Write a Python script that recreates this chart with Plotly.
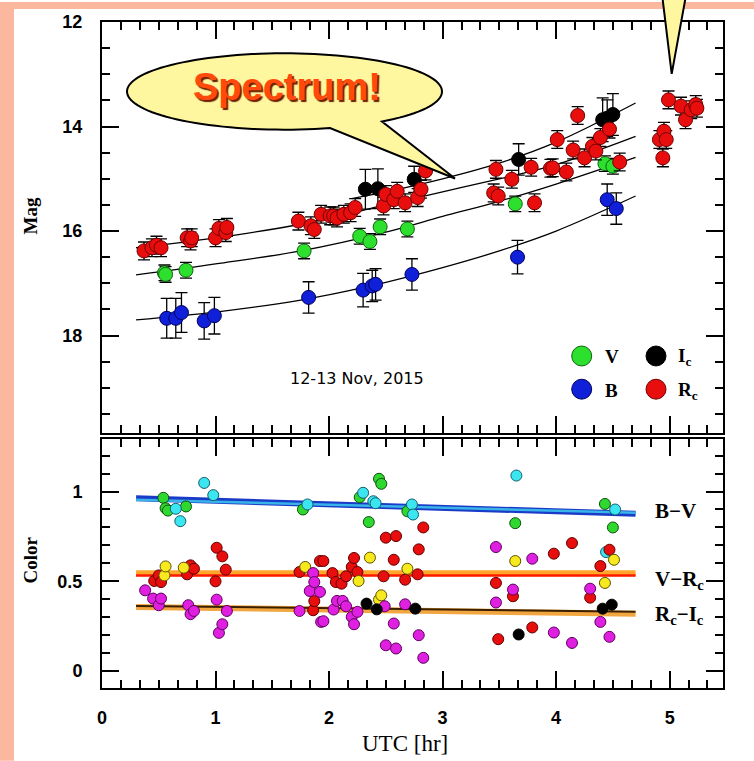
import numpy as np
import plotly.graph_objects as go

W, H = 754, 761
ML, MR, MT, MB = 102, 31, 20, 73

# ---------------- light curves (UTC hr, magnitude, error) ----------------
rc_t = [0.37, 0.44, 0.48, 0.52, 0.75, 0.78, 0.79, 1.00, 1.03, 1.09, 1.10, 1.73, 1.84, 1.87, 1.93,
        2.01, 2.04, 2.07, 2.13, 2.19, 2.23, 2.48, 2.50, 2.57, 2.60, 2.67, 2.78, 2.81, 2.85, 3.45,
        3.47, 3.49, 3.61, 3.78, 3.81, 3.95, 3.97, 4.01, 4.09, 4.15, 4.19, 4.25, 4.32, 4.35, 4.39,
        4.47, 4.56, 4.91, 4.94, 4.95, 4.97, 4.99, 5.10, 5.14, 5.19, 5.23, 5.24]
rc_mag = [16.38, 16.32, 16.27, 16.32, 16.13, 16.19, 16.13, 16.13, 15.95, 16.03, 15.93, 15.81, 15.90,
          15.97, 15.68, 15.71, 15.71, 15.75, 15.68, 15.65, 15.55, 15.52, 15.30, 15.40, 15.24, 15.46,
          15.36, 15.20, 14.85, 15.27, 14.82, 15.33, 15.01, 14.78, 15.46, 14.80, 14.79, 14.25, 14.87,
          14.45, 13.79, 14.60, 14.38, 14.47, 14.21, 14.05, 14.68, 14.25, 14.60, 14.09, 14.25, 13.49,
          13.61, 13.87, 13.68, 13.58, 13.65]
rc_err = [0.17] * len(rc_t)

ic_t = [2.32, 2.43, 2.75, 3.67, 4.41, 4.45, 4.50]
ic_mag = [15.20, 15.19, 15.01, 14.63, 13.87, 13.84, 13.77]
ic_err = [0.38, 0.38, 0.25, 0.30, 0.42, 0.35, 0.40]

v_t = [0.55, 0.56, 0.74, 1.78, 2.27, 2.36, 2.45, 2.69, 3.64, 4.43, 4.50]
v_mag = [16.80, 16.83, 16.75, 16.38, 16.10, 16.20, 15.92, 15.96, 15.48, 14.71, 14.76]
v_err = [0.15, 0.15, 0.15, 0.15, 0.15, 0.15, 0.15, 0.15, 0.15, 0.15, 0.15]

b_t = [0.57, 0.65, 0.70, 0.90, 0.99, 1.82, 2.30, 2.38, 2.41, 2.73, 3.66, 4.45, 4.53]
b_mag = [17.67, 17.67, 17.56, 17.72, 17.62, 17.27, 17.13, 17.05, 17.02, 16.83, 16.50, 15.40, 15.57]
b_err = [0.38, 0.38, 0.38, 0.35, 0.35, 0.30, 0.32, 0.30, 0.30, 0.30, 0.32, 0.30, 0.30]

# fitted trends through each band
fit_t = [0.3, 1.0, 1.75, 2.5, 3.0, 3.5, 4.0, 4.7]
fit_b = [17.70, 17.55, 17.32, 16.98, 16.70, 16.38, 16.00, 15.33]
fit_v = [16.84, 16.63, 16.38, 16.02, 15.72, 15.43, 15.10, 14.59]
fit_rc = [16.32, 16.13, 15.87, 15.50, 15.25, 15.00, 14.73, 14.19]
fit_ic_t = [2.2, 2.5, 3.0, 3.5, 4.0, 4.7]
fit_ic = [15.38, 15.25, 15.00, 14.70, 14.30, 13.55]

# ---------------- colour indices ----------------
bv1_t = [0.54, 0.56, 0.58, 0.74, 1.77, 2.27, 2.35, 2.44, 2.46, 2.69, 3.64, 4.43, 4.50]
bv1_c = [0.965, 0.907, 0.894, 0.917, 0.90, 0.968, 0.83, 1.071, 1.043, 0.89, 0.824, 0.931, 0.80]
bv2_t = [0.65, 0.69, 0.90, 0.98, 1.81, 2.30, 2.39, 2.41, 2.73, 2.74, 3.65, 4.44, 4.52]
bv2_c = [0.904, 0.835, 1.048, 0.98, 0.928, 0.993, 0.946, 0.935, 0.928, 0.872, 1.089, 0.663, 0.90]

vr1_t = [0.46, 0.50, 0.52, 0.75, 0.78, 0.81, 1.00, 1.01, 1.06, 1.09, 1.74, 1.86, 1.87, 1.92, 1.95,
         2.03, 2.06, 2.11, 2.15, 2.20, 2.22, 2.25, 2.48, 2.50, 2.57, 2.59, 2.67, 2.78, 2.79, 2.83,
         3.47, 3.49, 3.62, 3.79, 3.98, 4.14, 4.30, 4.39, 4.47]
vr1_c = [0.502, 0.533, 0.496, 0.539, 0.589, 0.57, 0.50, 0.687, 0.639, 0.565, 0.552, 0.339, 0.39,
         0.613, 0.613, 0.546, 0.496, 0.487, 0.528, 0.58, 0.63, 0.552, 0.528, 0.743, 0.62, 0.752,
         0.509, 0.539, 0.678, 0.80, 0.491, 0.178, 0.417, 0.243, 0.654, 0.713, 0.409, 0.585, 0.676]
vr2_t = [0.55, 0.56, 0.72, 1.79, 2.26, 2.36, 2.44, 2.46, 2.69, 3.64, 4.43, 4.51]
vr2_c = [0.533, 0.583, 0.576, 0.58, 0.502, 0.632, 0.398, 0.422, 0.57, 0.613, 0.491, 0.62]

ri1_t = [0.38, 0.45, 0.50, 0.52, 0.76, 0.78, 0.81, 1.01, 1.03, 1.06, 1.10, 1.74, 1.83, 1.86, 1.87,
         1.92, 1.93, 1.95, 2.04, 2.07, 2.12, 2.15, 2.20, 2.22, 2.25, 2.49, 2.50, 2.57, 2.59, 2.67,
         2.79, 2.83, 3.47, 3.47, 3.62, 3.79, 3.98, 4.14, 4.30, 4.39, 4.47]
ri1_c = [0.45, 0.404, 0.367, 0.404, 0.367, 0.317, 0.335, 0.398, 0.213, 0.261, 0.335, 0.335, 0.446,
         0.546, 0.496, 0.441, 0.274, 0.278, 0.343, 0.391, 0.391, 0.361, 0.302, 0.261, 0.33, 0.361,
         0.144, 0.265, 0.126, 0.372, 0.20, 0.074, 0.691, 0.382, 0.454, 0.626, 0.215, 0.157, 0.459,
         0.274, 0.191]
ri2_t = [2.33, 2.42, 2.76, 3.67, 4.41, 4.49]
ri2_c = [0.376, 0.344, 0.348, 0.204, 0.348, 0.37]

cfit_t = [0.3, 4.7]
cfit_bv_a = [0.962, 0.876]
cfit_bv_b = [0.955, 0.882]
cfit_vr_a = [0.545, 0.545]
cfit_vr_b = [0.532, 0.532]
cfit_ri_a = [0.357, 0.320]
cfit_ri_b = [0.363, 0.330]

mag_ticks = [12, 14, 16, 18]
col_ticks = [0, 0.5, 1]
utc_ticks = [0, 1, 2, 3, 4, 5]


def px2x(px):
    return (px - ML) / (W - ML - MR)


def py2y(py):
    return (H - MB - py) / (H - MT - MB)


fig = go.Figure()

# top panel: fits then points
for ft, fv in [(fit_t, fit_b), (fit_t, fit_v), (fit_t, fit_rc), (fit_ic_t, fit_ic)]:
    fig.add_trace(go.Scatter(x=ft, y=fv, mode="lines", line=dict(color="black", width=1.3, shape="spline"),
                             xaxis="x2", yaxis="y2", hoverinfo="skip"))


def band(t, m, e, fill, edge):
    fig.add_trace(go.Scatter(
        x=t, y=m, mode="markers", xaxis="x2", yaxis="y2",
        marker=dict(size=14, color=fill, line=dict(color=edge, width=1)),
        error_y=dict(type="data", array=e, color="black", thickness=1.3, width=6)))


band(b_t, b_mag, b_err, "#1020D8", "#00005a")
band(v_t, v_mag, v_err, "#2EE02E", "#106010")
band(ic_t, ic_mag, ic_err, "#000000", "#000000")
band(rc_t, rc_mag, rc_err, "#E80E0E", "#700000")

# bottom panel: colour fit bands
fig.add_trace(go.Scatter(x=cfit_t, y=cfit_bv_a, mode="lines", line=dict(color="#1A3AC8", width=6)))
fig.add_trace(go.Scatter(x=cfit_t, y=cfit_bv_b, mode="lines", line=dict(color="#38B4E8", width=2.5)))
fig.add_trace(go.Scatter(x=cfit_t, y=cfit_vr_a, mode="lines", line=dict(color="#FFA62B", width=6)))
fig.add_trace(go.Scatter(x=cfit_t, y=cfit_vr_b, mode="lines", line=dict(color="#FF1A00", width=2.5)))
fig.add_trace(go.Scatter(x=cfit_t, y=cfit_ri_a, mode="lines", line=dict(color="#F2A640", width=6)))
fig.add_trace(go.Scatter(x=cfit_t, y=cfit_ri_b, mode="lines", line=dict(color="#3A2000", width=2)))

for t, c, fill, edge in [(bv1_t, bv1_c, "#2ED82E", "#105010"), (bv2_t, bv2_c, "#3CE6F0", "#106070"),
                         (vr1_t, vr1_c, "#E80E0E", "#600000"), (vr2_t, vr2_c, "#F6EA1E", "#605000"),
                         (ri1_t, ri1_c, "#E020E0", "#600060"), (ri2_t, ri2_c, "#000000", "#000000")]:
    fig.add_trace(go.Scatter(x=t, y=c, mode="markers",
                             marker=dict(size=11, color=fill, line=dict(color=edge, width=1))))

tickfont = dict(family="Liberation Sans", size=18, color="black", weight="bold")
ax = dict(showline=True, linewidth=2, linecolor="black", mirror="ticks", ticks="inside",
          ticklen=17, tickwidth=2, tickcolor="black", showgrid=False, zeroline=False,
          tickfont=tickfont)

fig.update_layout(
    width=W, height=H, margin=dict(l=ML, r=MR, t=MT, b=MB),
    paper_bgcolor="white", plot_bgcolor="white", showlegend=False,
    xaxis=dict(**ax, domain=[0, 1], range=[0, 5.47], tickvals=utc_ticks, ticklabelstandoff=12,
               minor=dict(ticks="inside", ticklen=8, tickwidth=2, tickcolor="black", dtick=1 / 6, tick0=0),
               anchor="y"),
    yaxis=dict(**ax, domain=[0, py2y(438)], range=[-0.094, 1.294], tickvals=col_ticks, ticklabelstandoff=14,
               minor=dict(ticks="inside", ticklen=8, tickwidth=2, tickcolor="black", dtick=0.1, tick0=0),
               anchor="x"),
    xaxis2=dict(**ax, domain=[0, 1], range=[0, 5.47], tickvals=utc_ticks, showticklabels=False,
                minor=dict(ticks="inside", ticklen=8, tickwidth=2, tickcolor="black", dtick=1 / 6, tick0=0),
                anchor="y2", matches="x"),
    yaxis2=dict(**ax, domain=[py2y(432), 1], range=[19.86, 12], tickvals=mag_ticks, ticklabelstandoff=14,
                minor=dict(ticks="inside", ticklen=8, tickwidth=2, tickcolor="black", dtick=0.5, tick0=0),
                anchor="x2"),
)

shapes = []
salmon = "#FCB89E"
shapes.append(dict(type="rect", xref="paper", yref="paper", x0=px2x(0), x1=px2x(14), y0=py2y(761), y1=py2y(0),
                   fillcolor=salmon, line=dict(width=0), layer="below"))
shapes.append(dict(type="rect", xref="paper", yref="paper", x0=px2x(0), x1=px2x(754), y0=py2y(7), y1=py2y(0),
                   fillcolor=salmon, line=dict(width=0), layer="below"))

# speech bubble: ellipse with a pointer towards the light curves
cx, cy, rx, ry = 284.5, 89.7, 157.5, 38.3
th0 = np.degrees(np.arccos((330 - cx) / rx))
th1 = np.degrees(np.arccos((382 - cx) / rx)) + 360
ths = np.radians(np.linspace(th0, th1, 120))
pts = [(cx + rx * np.cos(a), cy + ry * np.sin(a)) for a in ths]
pts.append((455, 177))
path = "M " + " L ".join(f"{px2x(x):.5f},{py2y(y):.5f}" for x, y in pts) + " Z"
yellow = "#FFF6A0"
shapes.append(dict(type="path", xref="paper", yref="paper", path=path, fillcolor=yellow,
                   line=dict(color="black", width=2)))
tail = [(662.5, -4), (671.7, 72), (685.5, -4)]
tpath = "M " + " L ".join(f"{px2x(x):.5f},{py2y(y):.5f}" for x, y in tail) + " Z"
shapes.append(dict(type="path", xref="paper", yref="paper", path=tpath, fillcolor=yellow,
                   line=dict(color="black", width=2)))

# legend swatches
for (x, y), col, edge in [((581.7, 355), "#2EE02E", "#106010"), ((581.7, 388.3), "#1020D8", "#00005a"),
                          ((656, 355), "#000000", "#000000"), ((656, 388.3), "#E80E0E", "#700000")]:
    shapes.append(dict(type="circle", xref="paper", yref="paper", x0=px2x(x - 10), x1=px2x(x + 10),
                       y0=py2y(y + 10), y1=py2y(y - 10), fillcolor=col, line=dict(color=edge, width=1)))

fig.update_layout(shapes=shapes)

serif = "Liberation Serif"
ann = []


def text(px, py, s, size, family=serif, weight="bold", color="black", angle=0, xanchor="center", shadow=None):
    font = dict(family=family, size=size, weight=weight, color=color)
    if shadow:
        font["shadow"] = shadow
    ann.append(dict(x=px2x(px), y=py2y(py), xref="paper", yref="paper", text=s, showarrow=False,
                    xanchor=xanchor, yanchor="middle", textangle=angle, font=font))


text(287, 85, "Spectrum!", 38, family="Liberation Sans", color="#FF4A0C",
     shadow="2px 2px 1px #6A2000")
text(603, 356, "V", 19, xanchor="left")
text(603, 390, "B", 19, xanchor="left")
text(676, 356, "I<sub>c</sub>", 19, xanchor="left")
text(676, 390, "R<sub>c</sub>", 19, xanchor="left")
text(357, 378, "12-13 Nov, 2015", 16, family="DejaVu Sans", weight="normal")
text(653, 510, "B\u2212V", 21, xanchor="left")
text(653, 580, "V\u2212R<sub>c</sub>", 21, xanchor="left")
text(653, 615, "R<sub>c</sub>\u2212I<sub>c</sub>", 21, xanchor="left")
text(30, 215, "Mag", 19, angle=-90)
text(30, 560, "Color", 19, angle=-90)
text(405, 744, "UTC [hr]", 23, weight="normal")
fig.update_layout(annotations=ann)

fig.write_html("out.html")
